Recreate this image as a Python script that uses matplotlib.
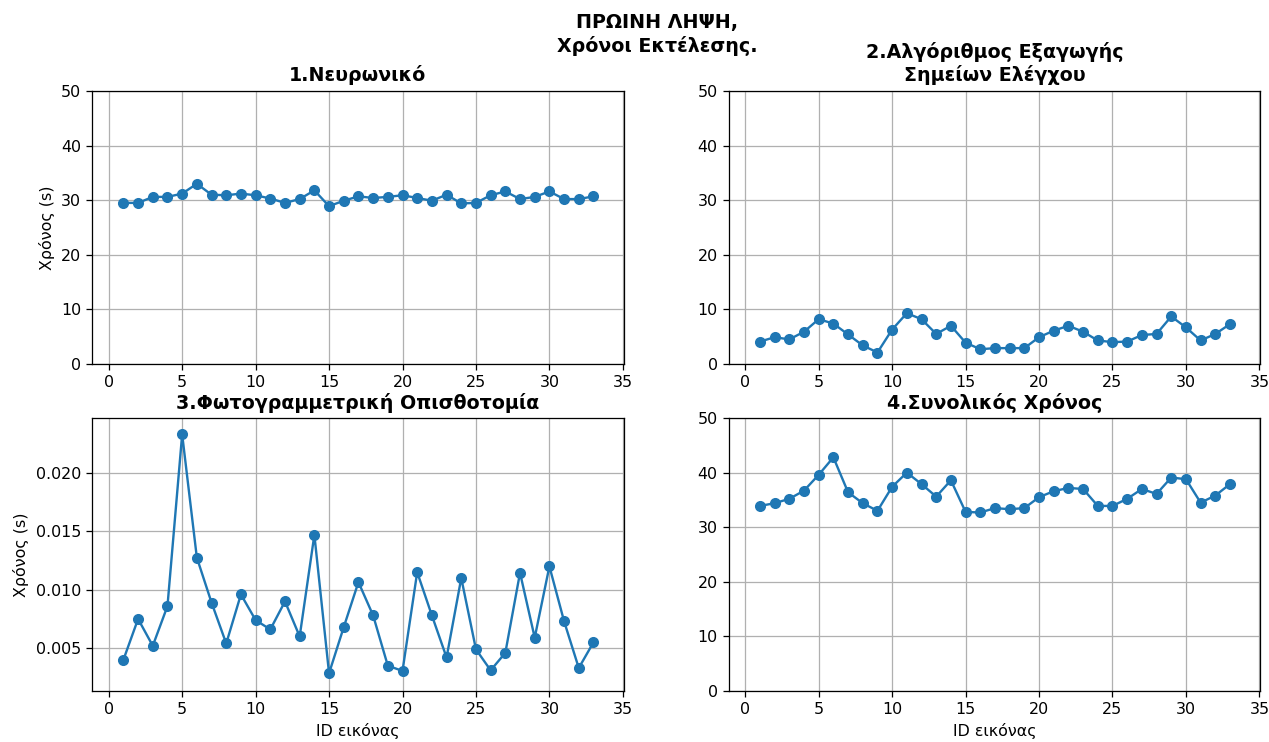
import matplotlib
matplotlib.use('Agg')
import matplotlib.pyplot as plt

ids = list(range(1, 34))

neurwniko = [29.5, 29.5, 30.6, 30.6, 31.2, 33.0, 31.0, 30.9, 31.2, 30.9,
             30.3, 29.5, 30.2, 31.8, 28.9, 29.9, 30.7, 30.4, 30.6, 30.9,
             30.4, 29.9, 31.0, 29.4, 29.5, 30.9, 31.6, 30.2, 30.6, 31.6,
             30.2, 30.2, 30.7]

shmeia_elegxou = [4.1, 4.9, 4.5, 5.9, 8.2, 7.4, 5.4, 3.4, 2.1, 6.3,
                  9.3, 8.2, 5.5, 7.0, 3.9, 2.7, 2.9, 2.9, 2.9, 4.9,
                  6.1, 7.0, 5.9, 4.3, 4.0, 4.1, 5.3, 5.5, 8.7, 6.7,
                  4.3, 5.5, 7.3]

opisthotomia = [0.0040, 0.0075, 0.0052, 0.0086, 0.0233, 0.01275, 0.0089, 0.0054, 0.0096, 0.0074,
                0.0066, 0.0090, 0.0060, 0.0147, 0.00285, 0.0068, 0.01065, 0.0078, 0.0035, 0.00305,
                0.0115, 0.0078, 0.0042, 0.0110, 0.0049, 0.0031, 0.0046, 0.01145, 0.0059, 0.0120,
                0.0073, 0.0033, 0.0055]

synoliko = [33.9, 34.4, 35.2, 36.7, 39.6, 42.8, 36.4, 34.4, 33.0, 37.4,
            40.0, 37.9, 35.6, 38.6, 32.8, 32.7, 33.5, 33.3, 33.5, 35.5,
            36.6, 37.2, 37.0, 33.9, 33.9, 35.2, 37.0, 36.1, 39.1, 38.8,
            34.5, 35.8, 37.9]

DPI = 114
fig, axs = plt.subplots(2, 2, figsize=(1269 / DPI, 742 / DPI), dpi=DPI)
fig.suptitle('ΠΡΩΙΝΗ ΛΗΨΗ,\nΧρόνοι Εκτέλεσης.', fontweight='bold',
             fontsize=12, x=0.518, y=0.982)

# 1. νευρωνικό
ax = axs[0, 0]
ax.plot(ids, neurwniko, marker='o')
ax.set_title('1.Νευρωνικό', fontweight='bold', fontsize=12)
ax.set_ylabel('Χρόνος (s)')
ax.set_ylim(0, 50)

# 2. σημεία ελέγχου
ax = axs[0, 1]
ax.plot(ids, shmeia_elegxou, marker='o')
ax.set_title('2.Αλγόριθμος Εξαγωγής\nΣημείων Ελέγχου', fontweight='bold', fontsize=12)
ax.set_ylim(0, 50)

# 3. οπισθοτομία
ax = axs[1, 0]
ax.plot(ids, opisthotomia, marker='o')
ax.set_title('3.Φωτογραμμετρική Οπισθοτομία', fontweight='bold', fontsize=12)
ax.set_ylabel('Χρόνος (s)')
ax.set_xlabel('ID εικόνας')
ax.set_yticks([0.005, 0.010, 0.015, 0.020])
ax.set_ylim(0.00133, 0.0247)

# 4. συνολικός χρόνος
ax = axs[1, 1]
ax.plot(ids, synoliko, marker='o')
ax.set_title('4.Συνολικός Χρόνος', fontweight='bold', fontsize=12)
ax.set_xlabel('ID εικόνας')
ax.set_ylim(0, 50)

for ax in axs.flat:
    ax.set_xticks(range(0, 36, 5))
    ax.set_xlim(-1.12, 35.05)
    ax.grid(True)

plt.subplots_adjust(left=0.0727, right=0.993, top=0.8774, bottom=0.0687,
                    wspace=0.198, hspace=0.198)
plt.savefig('out.png', dpi=DPI)
